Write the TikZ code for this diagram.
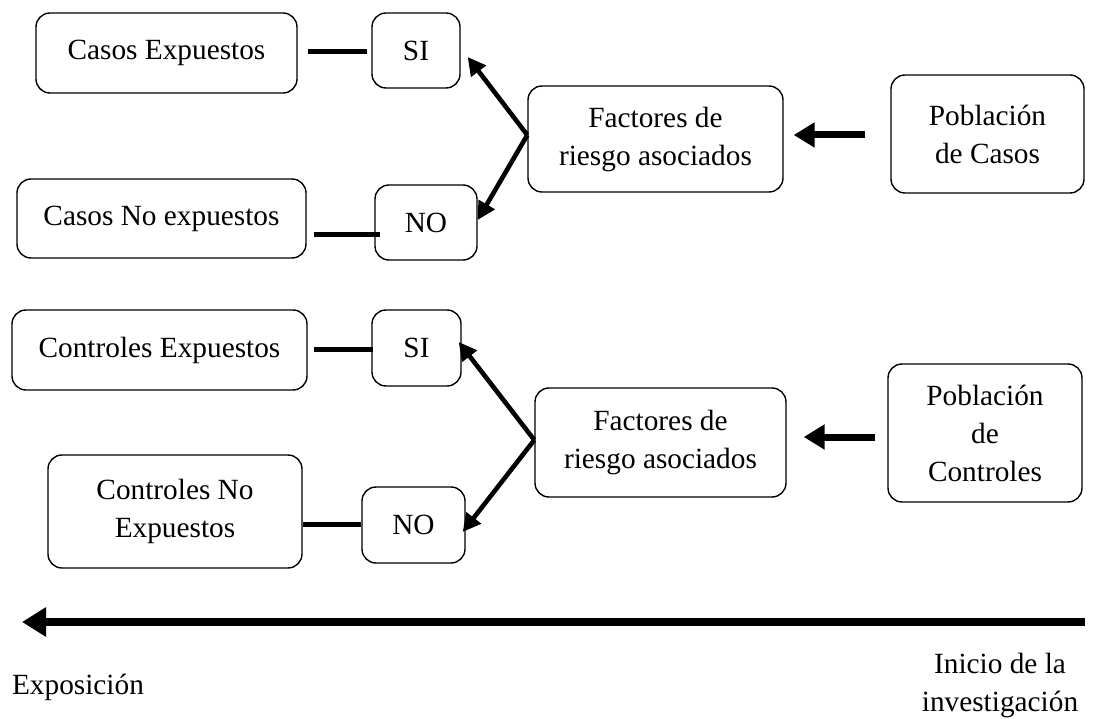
\documentclass[tikz,border=0pt]{standalone}
\usepackage{fontspec}
\setmainfont{Liberation Serif}
\usetikzlibrary{arrows.meta}
\newcommand{\diagfont}{\fontsize{29.3pt}{38pt}\selectfont}
\begin{document}
\begin{tikzpicture}[x=1pt,y=-1pt,
  box/.style={draw, line width=1.4pt, rounded corners=14pt, align=center, inner sep=0pt, font=\diagfont},
  lbl/.style={align=center, inner sep=0pt, font=\diagfont},
  conn/.style={line width=5pt},
  arr/.style={line width=4.6pt, -{Triangle[length=18pt,width=18pt]}},
  harr/.style={line width=7pt, -{Triangle[length=21pt,width=24pt]}},
  bigarr/.style={line width=8pt, -{Triangle[length=24pt,width=28pt]}}
]
\useasboundingbox (0,0) rectangle (1093,719);

% top group
\node[box, minimum width=261pt, minimum height=80pt] (ce) at (166.5,53) {Casos Expuestos};
\node[box, minimum width=88pt, minimum height=75pt] (si1) at (416,50.5) {SI};
\node[box, minimum width=255pt, minimum height=106pt] (f1) at (655.5,139) {Factores de\\riesgo asociados};
\node[box, minimum width=193pt, minimum height=118pt] (p1) at (987.5,134) {Población\\de Casos};
\node[box, minimum width=289pt, minimum height=79pt] (cne) at (161.5,218.5) {Casos No expuestos};
\node[box, minimum width=102pt, minimum height=75pt] (no1) at (426,222.5) {NO};

% bottom group
\node[box, minimum width=295pt, minimum height=80pt] (cex) at (159.5,350) {Controles Expuestos};
\node[box, minimum width=89pt, minimum height=76pt] (si2) at (416.5,348) {SI};
\node[box, minimum width=251pt, minimum height=109pt] (f2) at (660.5,442.5) {Factores de\\riesgo asociados};
\node[box, minimum width=194pt, minimum height=138pt] (p2) at (985,433) {Población\\de\\Controles};
\node[box, minimum width=254pt, minimum height=113pt] (cnex) at (175,511.5) {Controles No\\Expuestos};
\node[box, minimum width=103pt, minimum height=76pt] (no2) at (413.5,525) {NO};

% connectors top
\draw[conn] ([shift={(10pt,1pt)}]ce.east) -- ([shift={(-4pt,-1.5pt)}]si1.west);
\draw[conn] ([shift={(7pt,-16.5pt)}]cne.east) -- ([shift={(6pt,-12.5pt)}]no1.west);
\draw[arr] ([yshift=4pt]f1.west) -- ([shift={(7pt,-6.5pt)}]si1.east);
\draw[arr] ([yshift=4pt]f1.west) -- ([yshift=2.5pt]no1.east);
\draw[harr] ([shift={(-25pt,-1pt)}]p1.west) -- ([shift={(10pt,4pt)}]f1.east);

% connectors bottom
\draw[conn] ([xshift=6pt]cex.east) -- ([shift={(2pt,-2pt)}]si2.west);
\draw[conn] ([yshift=-12.5pt]cnex.east) -- ([yshift=1pt]no2.west);
\draw[arr] ([yshift=2.5pt]f2.west) -- ([shift={(-3pt,6pt)}]si2.east);
\draw[arr] ([yshift=2.5pt]f2.west) -- ([shift={(-3pt,-7pt)}]no2.east);
\draw[harr] ([shift={(-12pt,-4pt)}]p2.west) -- ([shift={(17pt,5.5pt)}]f2.east);

% time axis
\coordinate (tstart) at (1085,622);
\coordinate (tend) at (22,622);
\draw[bigarr] (tstart) -- (tend);
\node[lbl] (expo) at (78,687) {Exposición};
\node[lbl] (inicio) at (1000,685) {Inicio de la\\investigación};
\end{tikzpicture}
\end{document}
